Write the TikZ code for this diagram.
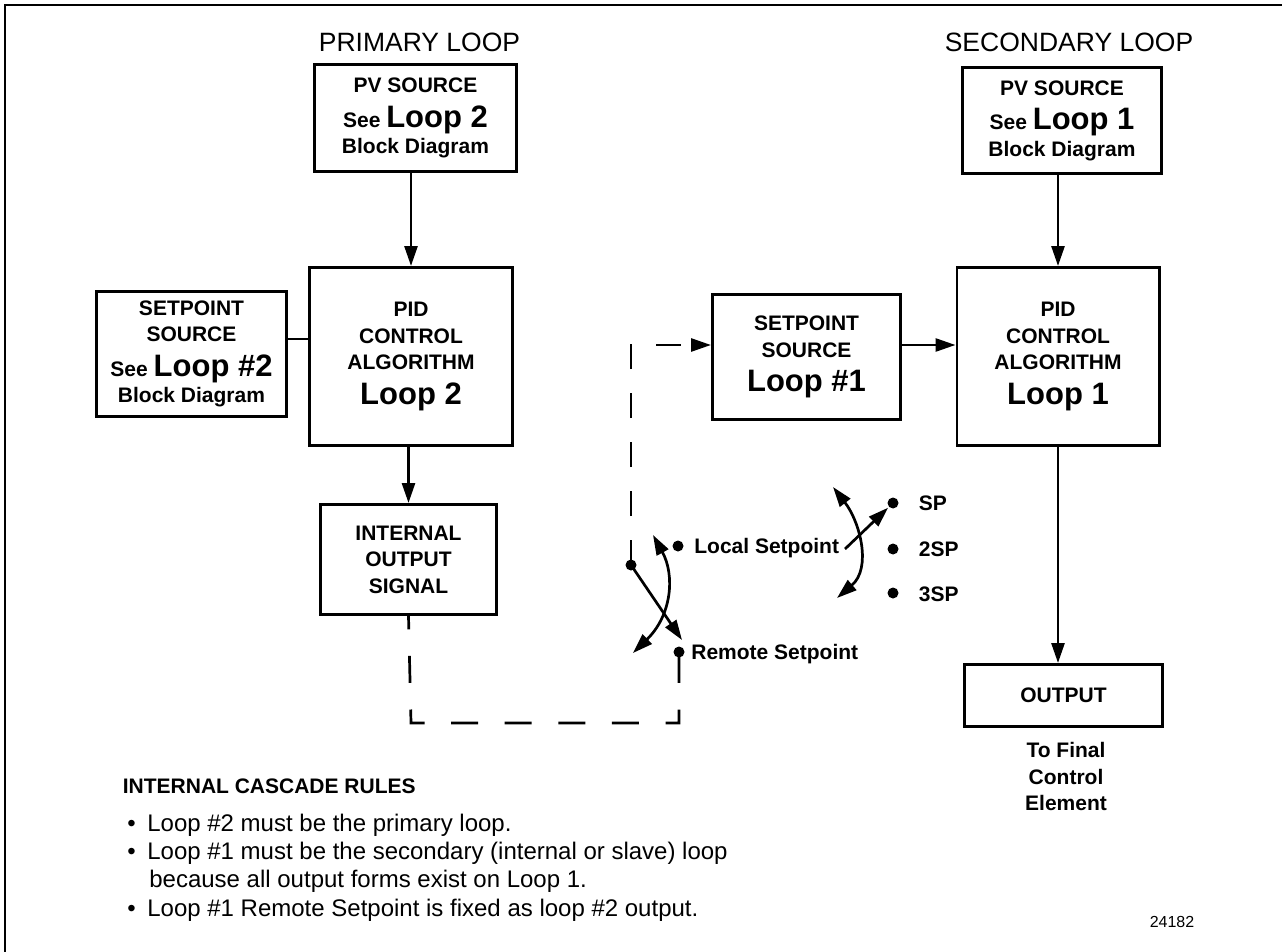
\documentclass[tikz,border=0pt]{standalone}
\usepackage{fontspec}
\setmainfont{Liberation Sans}
\usetikzlibrary{arrows.meta}
\newcommand\bigloop[1]{{\fontsize{31}{33}\selectfont #1}}

\begin{document}
\begin{tikzpicture}[x=1pt, y=-1pt, line width=2.7pt, >={Triangle[length=20pt,width=13pt]},
  blk/.style={draw, align=center, inner sep=0pt, font=\bfseries\fontsize{21}{26.5}\selectfont},
  dot/.style={circle, fill, inner sep=0pt, minimum size=11pt},
  lbl/.style={anchor=base west, inner sep=0pt, font=\bfseries\fontsize{21}{24}\selectfont},
  hd/.style={anchor=base, inner sep=0pt, font=\fontsize{26.5}{30}\selectfont},
  dashline/.style={dash pattern=on 25pt off 24pt}]
\useasboundingbox (0,0) rectangle (1282,952);
\draw[line width=1.3pt] (5,952) -- (5,5) -- (1282,5);
% primary loop
\node[hd] (prim) at (419.5,52) {PRIMARY LOOP};
\node[blk, minimum width=202.3pt, minimum height=107.3pt] (pv2) at (415.5,118) {PV SOURCE\\[8pt] See \bigloop{Loop 2}\\ Block Diagram};
\node[blk, minimum width=203.3pt, minimum height=178.3pt] (pid2) at (411,356.5) {PID\\ CONTROL\\ ALGORITHM\\[8pt] \bigloop{Loop 2}};
\node[blk, minimum width=190.3pt, minimum height=125.3pt] (sp2) at (191.5,354) {SETPOINT\\ SOURCE\\[8pt] See \bigloop{Loop \#2}\\ Block Diagram};
\node[blk, minimum width=176.3pt, minimum height=110.3pt] (ios) at (408.5,559.5) {INTERNAL\\ OUTPUT\\ SIGNAL};
\draw[->] (pid2.north |- pv2.south) -- (pid2.north);
\draw ([yshift=15pt]sp2.east) -- ([yshift=15pt]sp2.east -| pid2.west);
\draw[->] (ios.north |- pid2.south) -- (ios.north);
% secondary loop
\node[hd] (sec) at (1069,52) {SECONDARY LOOP};
\node[blk, minimum width=199.3pt, minimum height=106.3pt] (pv1) at (1062,120.5) {PV SOURCE\\[8pt] See \bigloop{Loop 1}\\ Block Diagram};
\node[blk, minimum width=202.3pt, minimum height=178.3pt] (pid1) at (1058,356.5) {PID\\ CONTROL\\ ALGORITHM\\[8pt] \bigloop{Loop 1}};
\node[blk, minimum width=188.3pt, minimum height=125.3pt] (sp1) at (806.5,357) {SETPOINT\\ SOURCE\\[8pt] \bigloop{Loop \#1}};
\node[blk, minimum width=198.3pt, minimum height=62.3pt] (out) at (1063.5,695.5) {OUTPUT};
\node[blk, draw=none, anchor=north] (fce) at (1066,741) {To Final\\ Control\\ Element};
\draw[->] (pid1.north |- pv1.south) -- (pid1.north);
\draw[->] ([yshift=12pt]sp1.east) -- ([yshift=12pt]sp1.east -| pid1.west);
\draw[->] (pid1.south) -- (pid1.south |- out.north);
% setpoint selection switches
\node[dot] (sw) at (631,565) {};
\node[dot] (loc) at (678,546) {};
\node[dot] (rem) at (679,652) {};
\node[lbl] (loclbl) at (693,553) {Local Setpoint};
\node[lbl] (remlbl) at (690,659) {Remote Setpoint};
\coordinate (armL) at (682,640);
\coordinate (swa) at (653,535);
\coordinate (swb) at (633,653);
\draw[->] (sw.center) -- (armL);
\draw[<->] (swa) .. controls (675,575) and (672,615) .. (swb);
\node[dot] (spd) at (893,503) {};
\node[dot] (spd2) at (893,549) {};
\node[dot] (spd3) at (893,593) {};
\node[lbl] (splbl) at (917.5,510) {SP};
\node[lbl] (sp2lbl) at (917.5,556) {2SP};
\node[lbl] (sp3lbl) at (917.5,601) {3SP};
\coordinate (armR) at (845,549);
\coordinate (spa) at (833,487);
\coordinate (spb) at (837,598);
\draw[->] (armR) -- (spd);
\draw[<->] (spa) .. controls (860,522) and (872,568) .. (spb);
% cascade link
\coordinate (dcl) at (411,723);
\draw[dashline, ->] (sw.center) |- ([yshift=12pt]sp1.west);
\draw[dash pattern=on 27pt off 26.6pt, dash phase=49.7pt] (rem.center) |- (dcl) -- (ios.south);
% rules
\node[anchor=base west, inner sep=0pt, font=\bfseries\fontsize{21}{25}\selectfont] (rules) at (121.5,793) {INTERNAL CASCADE RULES};
\node[anchor=north west, inner sep=0pt, align=left, font=\fontsize{24}{28.3}\selectfont] (rlist) at (126,812.5)
  {\makebox[20pt][l]{\textbullet}Loop \#2 must be the primary loop.\\
   \makebox[20pt][l]{\textbullet}Loop \#1 must be the secondary (internal or slave) loop\\
   \hspace*{22pt}because all output forms exist on Loop 1.\\
   \makebox[20pt][l]{\textbullet}Loop \#1 Remote Setpoint is fixed as loop \#2 output.};
\node[anchor=base, inner sep=0pt, font=\fontsize{16}{18}\selectfont] (fig) at (1172,927) {24182};
\end{tikzpicture}
\end{document}
